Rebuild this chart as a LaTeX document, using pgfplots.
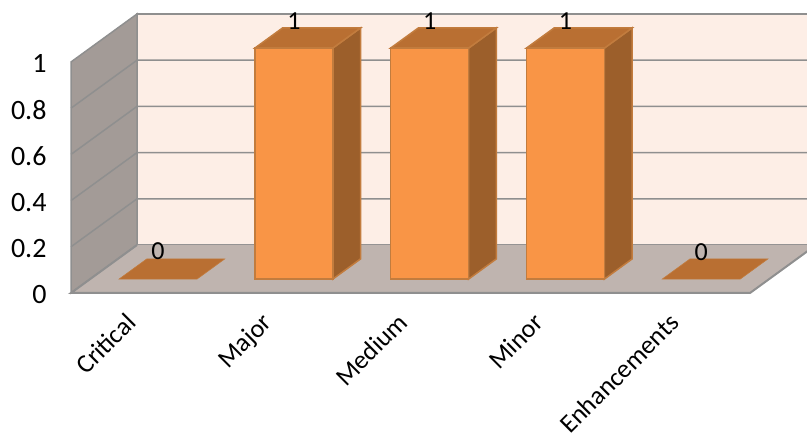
\documentclass[border=0pt]{standalone}
\usepackage{fontspec}
\setmainfont{Carlito}
\usepackage{pgfplots}
\pgfplotsset{compat=1.18}

\definecolor{wallback}{HTML}{FDEEE6}
\definecolor{wallside}{HTML}{A39B97}
\definecolor{floorc}{HTML}{BFB4AF}
\definecolor{gridc}{HTML}{8F8F8F}
\definecolor{barfront}{HTML}{F99546}
\definecolor{bartop}{HTML}{B96F32}
\definecolor{barside}{HTML}{9C5F2B}
\definecolor{baredge}{HTML}{C27C3E}

\begin{document}
\begin{tikzpicture}[x=1pt,y=1pt]
\clip (0,0) rectangle (807,441);
\path[use as bounding box] (0,0) rectangle (807,441);
\begin{axis}[
    overlay,
    at={(71pt,148pt)},
    anchor=origin,
    x={(135.8pt,0pt)},
    y={(66pt,48pt)},
    z={(0pt,231pt)},
    xmin=0, xmax=5,
    ymin=0, ymax=1,
    zmin=0, zmax=1,
    clip=false,
    grid=none,
    axis line style={draw=none},
    tick style={draw=none},
    ytick=\empty,
    xtick={0.5,1.5,2.5,3.5,4.5},
    xticklabels={Critical,Major,Medium,Minor,Enhancements},
    x tick label style={rotate=45,anchor=north east,font=\fontsize{26}{26}\selectfont,inner sep=0pt,overlay,xshift=-23pt,yshift=-3pt},
    ztick={0,0.2,0.4,0.6,0.8,1},
    zticklabels={0,0.2,0.4,0.6,0.8,1},
    z tick label style={font=\fontsize{28}{28}\selectfont,anchor=east,overlay,xshift=-21pt,yshift=-1.5pt},
]
% walls and floor
\addplot3[fill=wallback,draw=gridc,line width=1.5pt] coordinates {(0,1,0) (5,1,0) (5,1,1) (0,1,1)} -- cycle;
\addplot3[fill=wallside,draw=gridc,line width=1.5pt] coordinates {(0,0,0) (0,1,0) (0,1,1) (0,0,1)} -- cycle;
\addplot3[fill=floorc,draw=none] coordinates {(0,0,0) (5,0,0) (5,1,0) (0,1,0)} -- cycle;
\addplot3[draw=gridc,line width=2pt] coordinates {(0,1,0) (0,0,0) (5,0,0) (5,1,0)};
% grid lines
\addplot3[draw=gridc,line width=1.5pt] coordinates {(0,0,0.2) (0,1,0.2) (5,1,0.2)};
\addplot3[draw=gridc,line width=1.5pt] coordinates {(0,0,0.4) (0,1,0.4) (5,1,0.4)};
\addplot3[draw=gridc,line width=1.5pt] coordinates {(0,0,0.6) (0,1,0.6) (5,1,0.6)};
\addplot3[draw=gridc,line width=1.5pt] coordinates {(0,0,0.8) (0,1,0.8) (5,1,0.8)};
% Critical = 0
\addplot3[fill=bartop,draw=baredge,line width=0.6pt] coordinates {(0.213,0.29,0) (0.787,0.29,0) (0.787,0.71,0) (0.213,0.71,0)} -- cycle;
% Major = 1
\addplot3[fill=barside,draw=baredge,line width=1.5pt] coordinates {(1.787,0.29,0) (1.787,0.71,0) (1.787,0.71,1) (1.787,0.29,1)} -- cycle;
\addplot3[fill=bartop,draw=baredge,line width=1.5pt] coordinates {(1.213,0.29,1) (1.787,0.29,1) (1.787,0.71,1) (1.213,0.71,1)} -- cycle;
\addplot3[fill=barfront,draw=baredge,line width=1.5pt] coordinates {(1.213,0.29,0) (1.787,0.29,0) (1.787,0.29,1) (1.213,0.29,1)} -- cycle;
% Medium = 1
\addplot3[fill=barside,draw=baredge,line width=1.5pt] coordinates {(2.787,0.29,0) (2.787,0.71,0) (2.787,0.71,1) (2.787,0.29,1)} -- cycle;
\addplot3[fill=bartop,draw=baredge,line width=1.5pt] coordinates {(2.213,0.29,1) (2.787,0.29,1) (2.787,0.71,1) (2.213,0.71,1)} -- cycle;
\addplot3[fill=barfront,draw=baredge,line width=1.5pt] coordinates {(2.213,0.29,0) (2.787,0.29,0) (2.787,0.29,1) (2.213,0.29,1)} -- cycle;
% Minor = 1
\addplot3[fill=barside,draw=baredge,line width=1.5pt] coordinates {(3.787,0.29,0) (3.787,0.71,0) (3.787,0.71,1) (3.787,0.29,1)} -- cycle;
\addplot3[fill=bartop,draw=baredge,line width=1.5pt] coordinates {(3.213,0.29,1) (3.787,0.29,1) (3.787,0.71,1) (3.213,0.71,1)} -- cycle;
\addplot3[fill=barfront,draw=baredge,line width=1.5pt] coordinates {(3.213,0.29,0) (3.787,0.29,0) (3.787,0.29,1) (3.213,0.29,1)} -- cycle;
% Enhancements = 0
\addplot3[fill=bartop,draw=baredge,line width=0.6pt] coordinates {(4.213,0.29,0) (4.787,0.29,0) (4.787,0.71,0) (4.213,0.71,0)} -- cycle;
% data labels
\node[font=\fontsize{26}{26}\selectfont] at (axis cs:0.5,0.29,0.12) {0};
\node[font=\fontsize{26}{26}\selectfont] at (axis cs:1.5,0.29,1.115) {1};
\node[font=\fontsize{26}{26}\selectfont] at (axis cs:2.5,0.29,1.115) {1};
\node[font=\fontsize{26}{26}\selectfont] at (axis cs:3.5,0.29,1.115) {1};
\node[font=\fontsize{26}{26}\selectfont] at (axis cs:4.5,0.29,0.115) {0};
\end{axis}
\end{tikzpicture}
\end{document}
